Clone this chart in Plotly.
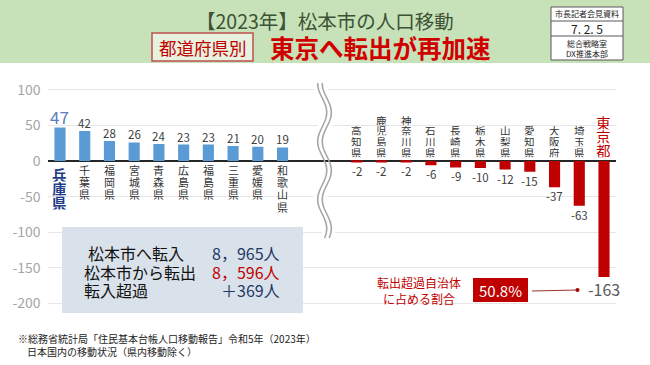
import plotly.graph_objects as go
import numpy as np

W, H = 650, 365

# ---------------- data ----------------
left_prefs = ["兵庫県", "千葉県", "福岡県", "宮城県", "青森県", "広島県", "福島県", "三重県", "愛媛県", "和歌山県"]
left_vals = [47, 42, 28, 26, 24, 23, 23, 21, 20, 19]
right_prefs = ["高知県", "鹿児島県", "神奈川県", "石川県", "長崎県", "栃木県", "山梨県", "愛知県", "大阪府", "埼玉県", "東京都"]
right_vals = [-2, -2, -2, -6, -9, -10, -12, -15, -37, -63, -163]
gap_slots = ["_gap1", "_gap2"]
y_ticks = [100, 50, 0, -50, -100, -150, -200]

title_line1 = "【2023年】松本市の人口移動"
title_tag = "都道府県別"
title_line2 = "東京へ転出が再加速"
info_rows = ["市長記者会見資料", "7. 2. 5", "総合戦略室<br>DX推進本部"]
summary_labels = ["松本市へ転入", "松本市から転出", "転入超過"]
summary_values = ["8，965人", "8，596人", "＋369人"]
summary_colors = ["#1f3864", "#c00000", "#1f3864"]
share_label = "転出超過自治体<br>に占める割合"
share_value = "50.8%"
footnote = ["※総務省統計局「住民基本台帳人口移動報告」令和5年（2023年）",
            "日本国内の移動状況（県内移動除く）"]

FONT = "Noto Sans CJK JP"
BLUE = "#5b9bd5"
RED = "#c00000"


def X(px):
    return px / W


def Y(py):
    return 1 - py / H


# pixel geometry of the plot
ZERO_PX = 161.0
K = 0.712  # px per unit
YMIN, YMAX = -205, 105
y_top_px = ZERO_PX - YMAX * K
y_bot_px = ZERO_PX - YMIN * K

cats = left_prefs + gap_slots + right_prefs

fig = go.Figure()
fig.add_trace(go.Bar(x=left_prefs, y=left_vals, marker_color=BLUE, marker_line_width=0,
                     hoverinfo="x+y"))
fig.add_trace(go.Bar(x=right_prefs, y=right_vals, marker_color=RED, marker_line_width=0,
                     hoverinfo="x+y"))

annotations = []
shapes = []

# value labels
for i, (c, v) in enumerate(zip(left_prefs, left_vals)):
    if i == 0:
        annotations.append(dict(x=c, y=v, xref="x", yref="y", text=str(v), showarrow=False,
                                yshift=11, yanchor="middle",
                                font=dict(family=FONT, size=17, color="#5b7fbf")))
    else:
        annotations.append(dict(x=c, y=v, xref="x", yref="y", text=str(v), showarrow=False,
                                yshift=8, yanchor="middle",
                                font=dict(family=FONT, size=11.5, color="#404040")))
for c, v in zip(right_prefs, right_vals):
    if c == "東京都":
        annotations.append(dict(x=c, y=v, xref="x", yref="y", text=str(v), showarrow=False,
                                yshift=-12, yanchor="middle",
                                font=dict(family=FONT, size=16, color="#595959")))
    else:
        annotations.append(dict(x=c, y=v, xref="x", yref="y", text=str(v), showarrow=False,
                                yshift=-9, yanchor="middle",
                                font=dict(family=FONT, size=11.5, color="#404040")))

# vertical category labels (one char each)
for c in left_prefs:
    if c == "兵庫県":
        size, step, start, col, bold = 14.5, 14, 175, "#1f3c88", True
    else:
        size, step, start, col, bold = 11, 12.2, 170, "#333333", False
    for j, ch in enumerate(c):
        annotations.append(dict(x=c, xref="x", y=Y(start + j * step), yref="paper",
                                text=("<b>%s</b>" % ch) if bold else ch,
                                showarrow=False, yanchor="middle", borderpad=0, height=step - 0.5,
                                font=dict(family=FONT, size=size, color=col)))
for c in right_prefs:
    if c == "東京都":
        size, step, end, col = 14.5, 13.7, 150, RED
    else:
        size, step, end, col = 10.5, 10.8, 152, "#333333"
    n = len(c)
    for j, ch in enumerate(c):
        annotations.append(dict(x=c, xref="x", y=Y(end - (n - 1 - j) * step), yref="paper", text=ch,
                                showarrow=False, yanchor="middle", borderpad=0, height=step - 0.5,
                                font=dict(family=FONT, size=size, color=col)))

# ---------------- header ----------------
shapes.append(dict(type="rect", xref="paper", yref="paper", x0=0, x1=1, y0=Y(63), y1=1,
                   fillcolor="#c7e1b8", line_width=0, layer="below"))
annotations.append(dict(x=X(325), y=Y(20), xref="paper", yref="paper", text=title_line1,
                        showarrow=False, xanchor="center", yanchor="middle",
                        font=dict(family=FONT, size=19.5, color="#3d5235")))
shapes.append(dict(type="rect", xref="paper", yref="paper", x0=X(152), x1=X(253), y0=Y(61), y1=Y(33),
                   fillcolor="#e6f1df", line=dict(color="#c0504d", width=1.5)))
annotations.append(dict(x=X(202.5), y=Y(47), xref="paper", yref="paper", text=title_tag,
                        showarrow=False, xanchor="center", yanchor="middle",
                        font=dict(family=FONT, size=17.5, color=RED)))
annotations.append(dict(x=X(268), y=Y(47.5), xref="paper", yref="paper", text="<b>" + title_line2 + "</b>",
                        showarrow=False, xanchor="left", yanchor="middle",
                        font=dict(family=FONT, size=24.5, color="#d00000")))
# info box
bx0, bx1 = 551, 623
rows_px = [7, 21, 36, 60]
shapes.append(dict(type="rect", xref="paper", yref="paper", x0=X(bx0), x1=X(bx1), y0=Y(rows_px[3]),
                   y1=Y(rows_px[0]), fillcolor="white", line=dict(color="#595959", width=1)))
for r in rows_px[1:3]:
    shapes.append(dict(type="line", xref="paper", yref="paper", x0=X(bx0), x1=X(bx1), y0=Y(r), y1=Y(r),
                       line=dict(color="#595959", width=1)))
info_sizes = [8, 12, 8]
for k, txt in enumerate(info_rows):
    cy = (rows_px[k] + rows_px[k + 1]) / 2
    annotations.append(dict(x=X((bx0 + bx1) / 2), y=Y(cy), xref="paper", yref="paper", text=txt,
                            showarrow=False, xanchor="center", yanchor="middle", borderpad=0,
                            font=dict(family=FONT, size=info_sizes[k], color="#222222")))

# ---------------- summary box ----------------
shapes.append(dict(type="rect", xref="paper", yref="paper", x0=X(62), x1=X(303), y0=Y(313), y1=Y(227),
                   fillcolor="#d9e1ea", line_width=0))
row_y = [253, 272, 290]
label_x = [87, 83, 83]
for k in range(3):
    annotations.append(dict(x=X(label_x[k]), y=Y(row_y[k]), xref="paper", yref="paper",
                            text=summary_labels[k], showarrow=False, xanchor="left", yanchor="middle",
                            borderpad=0, height=18,
                            font=dict(family=FONT, size=16, color="#111111")))
    annotations.append(dict(x=X(281), y=Y(row_y[k]), xref="paper", yref="paper",
                            text=summary_values[k], showarrow=False, xanchor="right", yanchor="middle",
                            borderpad=0, height=18,
                            font=dict(family=FONT, size=16, color=summary_colors[k])))

# ---------------- share annotation ----------------
annotations.append(dict(x=X(419), y=Y(290), xref="paper", yref="paper", text=share_label,
                        showarrow=False, xanchor="center", yanchor="middle",
                        font=dict(family=FONT, size=12, color=RED)))
shapes.append(dict(type="rect", xref="paper", yref="paper", x0=X(473), x1=X(528), y0=Y(302), y1=Y(278),
                   fillcolor=RED, line_width=0))
annotations.append(dict(x=X(500.5), y=Y(290), xref="paper", yref="paper", text=share_value,
                        showarrow=False, xanchor="center", yanchor="middle",
                        font=dict(family=FONT, size=15, color="white")))
shapes.append(dict(type="line", xref="paper", yref="paper", x0=X(532), x1=X(577), y0=Y(291), y1=Y(290),
                   line=dict(color="#a03030", width=1)))
shapes.append(dict(type="circle", xref="paper", yref="paper", x0=X(575.5), x1=X(579.5), y0=Y(292), y1=Y(288),
                   fillcolor="#a00000", line_width=0))

# ---------------- footnote ----------------
annotations.append(dict(x=X(16), y=Y(338), xref="paper", yref="paper", text=footnote[0],
                        showarrow=False, xanchor="left", yanchor="middle",
                        font=dict(family=FONT, size=10, color="#222222")))
annotations.append(dict(x=X(25), y=Y(351), xref="paper", yref="paper", text=footnote[1],
                        showarrow=False, xanchor="left", yanchor="middle",
                        font=dict(family=FONT, size=10, color="#222222")))

# ---------------- wavy break ----------------
ys = np.arange(83, 239, 1.0)
xs = 324.5 + 4.5 * np.sin(2 * np.pi * (ys - 98) / 58)


def wave_path(dx):
    pts = ["%s%.5f,%.5f" % ("M" if i == 0 else "L", X(x + dx), Y(y)) for i, (x, y) in enumerate(zip(xs, ys))]
    return " ".join(pts)


shapes.append(dict(type="path", xref="paper", yref="paper", path=wave_path(0),
                   line=dict(color="white", width=13)))
shapes.append(dict(type="line", xref="paper", yref="paper", x0=X(312), x1=X(338), y0=Y(ZERO_PX), y1=Y(ZERO_PX),
                   line=dict(color="#262626", width=2)))
shapes.append(dict(type="path", xref="paper", yref="paper", path=wave_path(-2.3),
                   line=dict(color="#a6a6a6", width=1.6)))
shapes.append(dict(type="path", xref="paper", yref="paper", path=wave_path(2.3),
                   line=dict(color="#a6a6a6", width=1.6)))

step = 544 / 22
x_left = 60 - step / 2
x_right = 604 + step / 2

fig.update_layout(
    width=W, height=H,
    margin=dict(l=0, r=0, t=0, b=0),
    paper_bgcolor="white", plot_bgcolor="white",
    showlegend=False,
    barmode="relative",
    bargap=0.55,
    font=dict(family=FONT),
    xaxis=dict(domain=[X(x_left), X(x_right)], type="category", categoryorder="array",
               categoryarray=cats, range=[-0.5, len(cats) - 0.5],
               showticklabels=False, showgrid=False, zeroline=False, showline=False, ticks=""),
    yaxis=dict(domain=[Y(y_bot_px), Y(y_top_px)], range=[YMIN, YMAX], tickvals=y_ticks,
               ticktext=[str(v) for v in y_ticks], showgrid=True, gridcolor="#e6e6e6", gridwidth=1,
               zeroline=True, zerolinecolor="#262626", zerolinewidth=2, showline=False,
               ticks="", ticklabelstandoff=6, automargin=False,
               tickfont=dict(family=FONT, size=14, color="#a6a6a6")),
    annotations=annotations,
    shapes=shapes,
)

fig.write_html("out.html", config={"displayModeBar": False},
               post_script="document.body.style.margin='0';document.body.style.padding='0';"
                           "document.body.style.overflow='hidden';")
